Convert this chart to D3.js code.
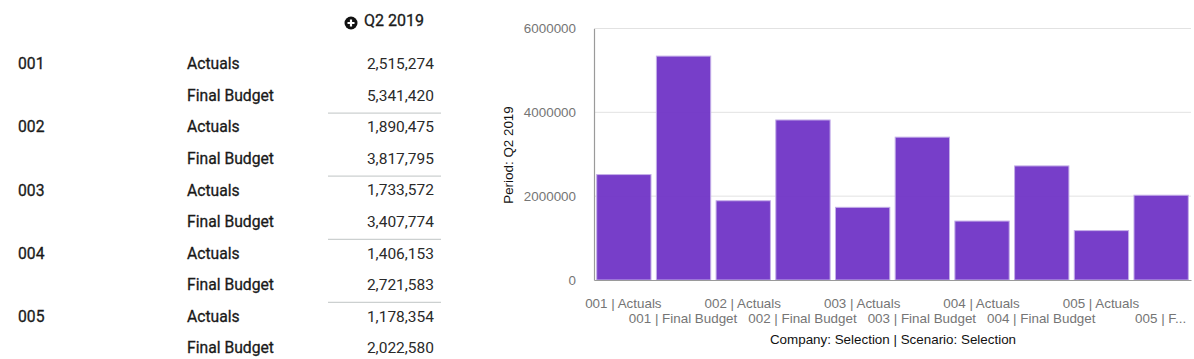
<!DOCTYPE html>
<html>
<head>
<meta charset="utf-8">
<script src="https://cdnjs.cloudflare.com/ajax/libs/d3/7.8.5/d3.min.js"></script>
<style>
  html, body { margin: 0; padding: 0; background: #fff; overflow: hidden; }
  .table text { font-family: Roboto, sans-serif; font-size: 15.5px; fill: #2a2a2a; }
  .table .strong { font-size: 15.7px; fill: #1a1a1a; stroke: #1a1a1a; stroke-width: 0.3px; }
  .axis text { font-family: "Liberation Sans", Arial, sans-serif; font-size: 13.4px; fill: #757575; }
  .title { font-family: "Liberation Sans", Arial, sans-serif; font-size: 13.4px; fill: #111; }
</style>
</head>
<body>
<svg id="chart" width="1194" height="359"></svg>
<script>
const companies = ["001", "002", "003", "004", "005"]
const scenarios = ["Actuals", "Final Budget"]
const period = "Q2 2019"
const values = [2515274, 5341420, 1890475, 3817795, 1733572, 3407774, 1406153, 2721583, 1178354, 2022580]
const yTicks = [0, 2000000, 4000000, 6000000]

const rows = companies.flatMap(c => scenarios.map(s => c + " | " + s))
const svg = d3.select("#chart")

// table on the left
const rowScale = d3.scalePoint().domain(rows).range([63.8, 347.8])
const numFormat = d3.format(",")
const table = svg.append("g").attr("class", "table")

table.selectAll(".val")
     .data(rows)
     .enter()
     .append("text")
     .attr("class", "val")
     .attr("x", 434)
     .attr("y", d => rowScale(d))
     .attr("dy", "0.35em")
     .attr("text-anchor", "end")
     .text((d, i) => numFormat(values[i]))

table.selectAll(".scen")
     .data(rows)
     .enter()
     .append("text")
     .attr("class", "scen strong")
     .attr("x", 187)
     .attr("y", d => rowScale(d))
     .attr("dy", "0.35em")
     .text(d => d.split(" | ")[1])

table.selectAll(".comp")
     .data(companies)
     .enter()
     .append("text")
     .attr("class", "comp strong")
     .attr("x", 18)
     .attr("y", d => rowScale(d + " | " + scenarios[0]))
     .attr("dy", "0.35em")
     .text(d => d)

// separators sit between companies
table.selectAll("line")
     .data(companies.slice(1))
     .enter()
     .append("line")
     .attr("x1", 328)
     .attr("x2", 441)
     .attr("y1", d => rowScale(d + " | " + scenarios[0]) - 13.8)
     .attr("y2", d => rowScale(d + " | " + scenarios[0]) - 13.8)
     .attr("stroke", "#ccd0d0")
     .attr("stroke-width", 1.2)

table.append("text")
     .attr("class", "strong")
     .attr("x", 364)
     .attr("y", 20.5)
     .attr("dy", "0.35em")
     .style("font-size", "16px")
     .text(period)

const plus = table.append("g").attr("transform", "translate(351,23)")
plus.append("circle").attr("r", 6.5).attr("fill", "#111")
plus.append("path").attr("d", "M-3.5,0H3.5M0,-3.5V3.5").attr("stroke", "#fff").attr("stroke-width", 2.2)

// bar chart on the right
const x = d3.scaleBand().domain(rows).range([594, 1191]).paddingInner(0.09).paddingOuter(0.045)
const y = d3.scaleLinear().domain([0, 6000000]).range([280, 28.5])

svg.append("g")
   .selectAll("line")
   .data(yTicks.slice(1))
   .enter()
   .append("line")
   .attr("x1", 594)
   .attr("x2", 1191)
   .attr("y1", d => y(d))
   .attr("y2", d => y(d))
   .attr("stroke", "#e2e2e2")

svg.append("g")
   .selectAll("rect")
   .data(rows)
   .enter()
   .append("rect")
   .attr("x", d => x(d))
   .attr("y", (d, i) => y(values[i]))
   .attr("width", x.bandwidth())
   .attr("height", (d, i) => y(0) - y(values[i]))
   .attr("fill", "#7034c6")
   .attr("fill-opacity", 0.95)
   .attr("stroke", "#c4aee8")
   .attr("stroke-width", 1)

const yAxis = svg.append("g")
   .attr("class", "axis")
   .attr("transform", "translate(594,0)")
   .call(d3.axisLeft(y).tickValues(yTicks).tickFormat(d3.format("d")).tickSize(0).tickPadding(18))
yAxis.select(".domain").attr("stroke", "#9a9a9a").attr("stroke-width", 1.2)

const xAxis = svg.append("g")
   .attr("class", "axis")
   .attr("transform", "translate(0,280)")
   .call(d3.axisBottom(x).tickSize(0).tickFormat((d, i) => i === rows.length - 1 ? d.slice(0, 7) + "..." : d))
xAxis.select(".domain").attr("stroke", "#9a9a9a").attr("stroke-width", 1.2)
// labels alternate between two rows, shifted a touch left of the bar centre
xAxis.selectAll(".tick text")
     .attr("x", -0.5)
     .attr("y", (d, i) => i % 2 === 0 ? 23.5 : 38.5)
     .attr("dy", "0.32em")

svg.append("text")
   .attr("class", "title")
   .attr("text-anchor", "middle")
   .attr("transform", "translate(509,155) rotate(-90)")
   .attr("dy", "0.32em")
   .text("Period: " + period)

svg.append("text")
   .attr("class", "title")
   .attr("text-anchor", "middle")
   .attr("x", 893)
   .attr("y", 339.5)
   .attr("dy", "0.32em")
   .text("Company: Selection | Scenario: Selection")
</script>
</body>
</html>
